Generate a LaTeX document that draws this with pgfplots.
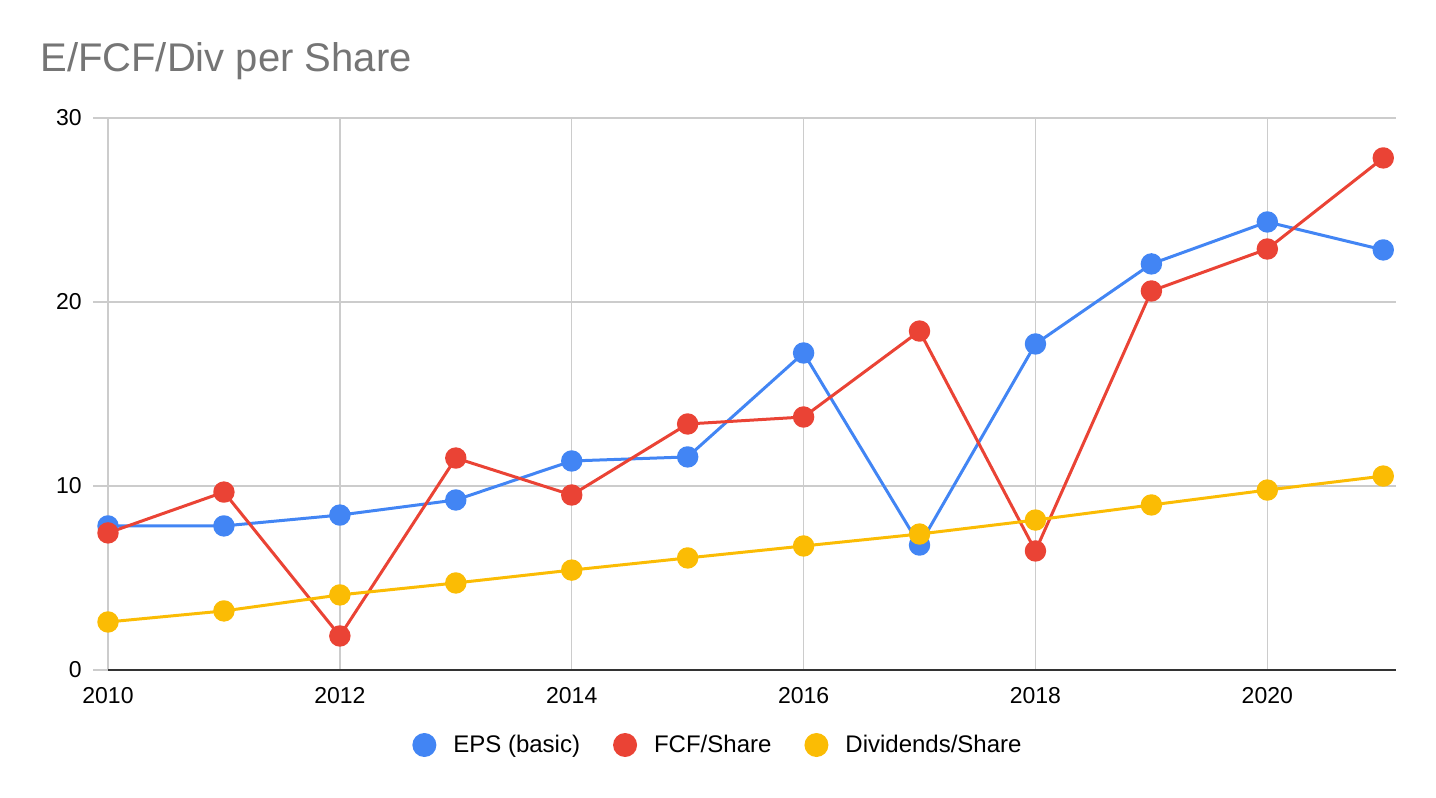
\documentclass[border=0pt]{standalone}
\usepackage{pgfplots}
\pgfplotsset{compat=1.18}
\usepackage{fontspec}
\setmainfont{Liberation Sans}
\definecolor{cblue}{HTML}{4285F4}
\definecolor{cred}{HTML}{EA4335}
\definecolor{cyellow}{HTML}{FBBC04}
\definecolor{cgrid}{HTML}{CCCCCC}
\definecolor{ctitle}{HTML}{757575}
\definecolor{caxis}{HTML}{333333}
\begin{document}
\begin{tikzpicture}
\useasboundingbox (0,0) rectangle (718bp,399bp);
\node[anchor=base west, text=ctitle, font=\fontsize{20bp}{24bp}\selectfont, inner sep=0pt] at (20bp,363bp) {E/FCF/Div per Share};
\begin{axis}[
  at={(54bp,64bp)}, anchor=south west,
  scale only axis, width=644bp, height=276bp,
  xmin=2010, xmax=2021.11, ymin=0, ymax=30,
  xtick={2010,2012,...,2020}, ytick={0,10,20,30},
  ytick pos=left,
  xticklabel style={/pgf/number format/1000 sep={}},
  /pgf/number format/assume math mode=true,
  tick label style={font=\fontsize{11.5bp}{13bp}\selectfont, text=black},
  xticklabel style={anchor=north, inner sep=0pt, yshift=-1bp},
  yticklabel style={anchor=east, inner sep=0pt, xshift=-5.5bp},
  grid=major,
  grid style={color=cgrid, line width=0.75bp},
  axis line style={draw=none},
  xtick style={draw=none},
  ytick style={color=cgrid, line width=0.75bp},
  tick align=outside, major tick length=7.5bp,
  extra y ticks={0}, extra y tick labels={},
  extra y tick style={grid style={color=caxis, line width=0.9bp}, tick style={draw=none}},
  legend columns=3,
  legend style={at={(0.4728,-0.1359)}, anchor=center, draw=none, fill=none,
    font=\fontsize{12bp}{14bp}\selectfont,
    /tikz/every odd column/.append style={column sep=8.5bp},
    /tikz/every even column/.append style={column sep=16.5bp},
    nodes={inner sep=0pt, anchor=west}},
  legend image code/.code={\path[#1, draw=none, fill] (0bp,0bp) circle (6bp);},
  every axis plot/.append style={line width=1.5bp, mark=*, mark size=4.6bp, line join=round},
]
\addplot[color=cblue] coordinates {
(2010,7.83) (2011,7.83) (2012,8.42) (2013,9.24) (2014,11.36) (2015,11.58)
(2016,17.23) (2017,6.79) (2018,17.72) (2019,22.07) (2020,24.35) (2021,22.83)};
\addlegendentry{EPS (basic)}
\addplot[color=cred] coordinates {
(2010,7.45) (2011,9.67) (2012,1.85) (2013,11.52) (2014,9.51) (2015,13.37)
(2016,13.75) (2017,18.42) (2018,6.47) (2019,20.60) (2020,22.88) (2021,27.83)};
\addlegendentry{FCF/Share}
\addplot[color=cyellow] coordinates {
(2010,2.61) (2011,3.21) (2012,4.08) (2013,4.73) (2014,5.43) (2015,6.09)
(2016,6.74) (2017,7.39) (2018,8.15) (2019,8.97) (2020,9.78) (2021,10.54)};
\addlegendentry{Dividends/Share}
\end{axis}
\end{tikzpicture}
\end{document}
